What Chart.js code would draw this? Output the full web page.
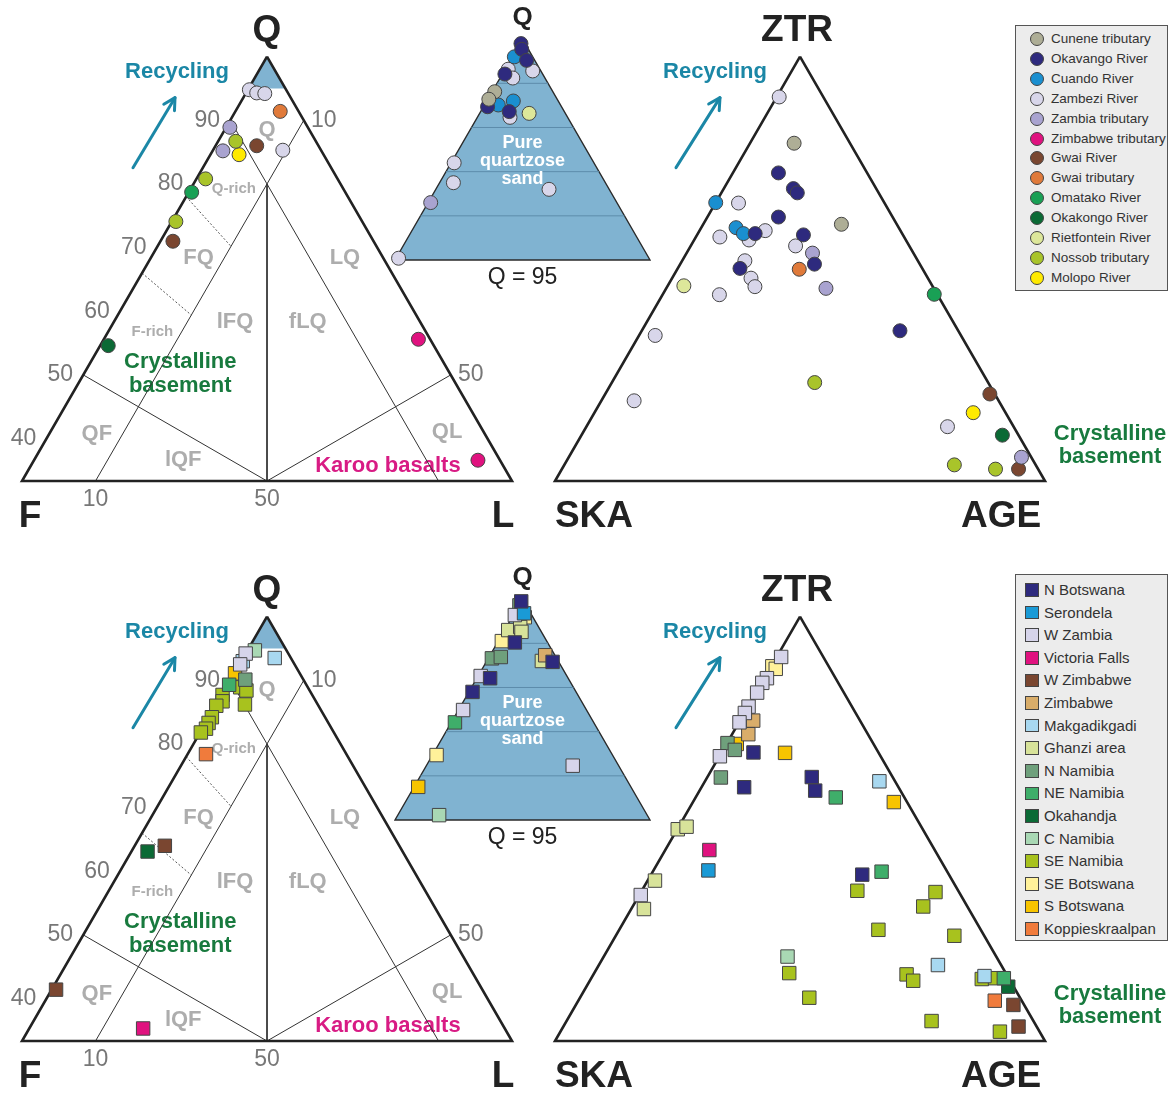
<!DOCTYPE html>
<html>
<head>
<meta charset="utf-8">
<script src="https://cdn.jsdelivr.net/npm/chart.js@4.4.1/dist/chart.umd.min.js"></script>
<style>
  html, body { margin: 0; padding: 0; background: #fff; }
  #wrap { position: relative; width: 1174px; height: 1095px; font-family: "Liberation Sans", Arial, sans-serif; }
  #fig { position: absolute; left: 0; top: 0; }
  .legend { position: absolute; background: #ececec; border: 1px solid #555; box-sizing: border-box; color: #333; }
  .legend .mk { position: absolute; border: 1px solid #444; box-sizing: border-box; }
  .legend .tx { position: absolute; white-space: nowrap; }
</style>
</head>
<body>
<div id="wrap">
  <canvas id="fig" width="1174" height="1095"></canvas>
  <div class="legend" id="legRivers" style="left:1015px;top:25px;width:153px;height:266px;"></div>
  <div class="legend" id="legRegions" style="left:1015px;top:574px;width:153px;height:367px;"></div>
</div>
<script>
// ---- groups ----
const rivers = ['Cunene tributary', 'Okavango River', 'Cuando River', 'Zambezi River', 'Zambia tributary',
  'Zimbabwe tributary', 'Gwai River', 'Gwai tributary', 'Omatako River', 'Okakongo River',
  'Rietfontein River', 'Nossob tributary', 'Molopo River'];
const regions = ['N Botswana', 'Serondela', 'W Zambia', 'Victoria Falls', 'W Zimbabwe', 'Zimbabwe',
  'Makgadikgadi', 'Ghanzi area', 'N Namibia', 'NE Namibia', 'Okahandja', 'C Namibia', 'SE Namibia',
  'SE Botswana', 'S Botswana', 'Koppieskraalpan'];

// ---- tick labels ----
const qTicks = [40, 50, 60, 70, 80, 90];   // Q along the F-Q side
const lTicks = [10, 50];                   // L along the Q-L side
const baseTicks = [10, 50];                // along the F-L base

// ---- river sands: [group, Q, F, L] ----
const riverQFL = [
  ['Zambezi River', 94.8, 5.0, 0.2],
  ['Zambezi River', 94.3, 4.25, 1.45],
  ['Zambezi River', 94.2, 3.2, 2.6],
  ['Gwai tributary', 91.4, 2.5, 6.1],
  ['Zambia tributary', 88.9, 10.6, 0.5],
  ['Nossob tributary', 86.7, 10.9, 2.4],
  ['Gwai River', 86.0, 8.4, 5.6],
  ['Zambia tributary', 85.2, 13.4, 1.4],
  ['Molopo River', 84.6, 11.5, 3.9],
  ['Zambezi River', 85.3, 5.2, 9.5],
  ['Nossob tributary', 80.8, 17.95, 1.25],
  ['Omatako River', 78.7, 20.9, 0.4],
  ['Nossob tributary', 74.1, 25.35, 0.55],
  ['Gwai River', 71.0, 27.3, 1.7],
  ['Okakongo River', 54.6, 44.3, 1.1],
  ['Zimbabwe tributary', 55.6, 1.6, 42.8],
  ['Zimbabwe tributary', 36.6, 3.0, 60.4]
];
const riverQFLzoom = [
  ['Okavango River', 99.9, 0.08, 0.02],
  ['Okavango River', 99.77, 0.13, 0.10],
  ['Cuando River', 99.6, 0.36, 0.04],
  ['Okavango River', 99.52, 0.16, 0.32],
  ['Zambezi River', 99.32, 0.62, 0.06],
  ['Okavango River', 99.21, 0.74, 0.05],
  ['Zambezi River', 99.12, 0.63, 0.25],
  ['Zambezi River', 99.28, 0.16, 0.56],
  ['Cunene tributary', 98.81, 1.14, 0.05],
  ['Cunene tributary', 98.64, 1.34, 0.02],
  ['Okavango River', 98.47, 1.45, 0.08],
  ['Cuando River', 98.51, 1.22, 0.27],
  ['Cuando River', 98.6, 0.88, 0.52],
  ['Okavango River', 98.36, 1.08, 0.56],
  ['Zambezi River', 98.23, 1.13, 0.64],
  ['Rietfontein River', 98.32, 0.71, 0.97],
  ['Zambezi River', 97.2, 2.74, 0.06],
  ['Zambezi River', 96.75, 2.98, 0.27],
  ['Zambia tributary', 96.3, 3.65, 0.05],
  ['Zambezi River', 96.6, 1.18, 2.22],
  ['Zambezi River', 95.04, 4.91, 0.05]
];
// [group, ZTR, SKA, AGE]
const riverZTR = [
  ['Zambezi River', 90.5, 9.0, 0.5],
  ['Cunene tributary', 79.6, 11.4, 9.0],
  ['Okavango River', 72.6, 18.1, 9.3],
  ['Okavango River', 68.9, 16.9, 14.2],
  ['Okavango River', 67.9, 16.6, 15.5],
  ['Cuando River', 65.6, 34.4, 0.0],
  ['Zambezi River', 65.5, 29.8, 4.7],
  ['Okavango River', 62.2, 23.3, 14.5],
  ['Cuando River', 59.7, 33.2, 7.1],
  ['Cuando River', 58.3, 32.4, 9.3],
  ['Zambezi River', 57.5, 37.6, 4.9],
  ['Zambezi River', 56.8, 32.0, 11.2],
  ['Okavango River', 58.3, 30.0, 11.7],
  ['Zambezi River', 59.0, 27.6, 13.4],
  ['Cunene tributary', 60.5, 11.3, 28.2],
  ['Okavango River', 58.0, 20.3, 21.7],
  ['Zambezi River', 55.4, 23.2, 21.4],
  ['Zambia tributary', 53.7, 20.6, 25.7],
  ['Okavango River', 51.1, 21.5, 27.4],
  ['Gwai tributary', 49.9, 25.2, 24.9],
  ['Zambezi River', 51.9, 35.3, 12.8],
  ['Okavango River', 50.1, 37.2, 12.7],
  ['Zambezi River', 47.8, 36.1, 16.1],
  ['Zambezi River', 45.8, 36.3, 17.9],
  ['Rietfontein River', 46.0, 50.7, 3.3],
  ['Zambezi River', 43.9, 44.5, 11.6],
  ['Zambia tributary', 45.4, 22.0, 32.6],
  ['Zambezi River', 34.3, 62.4, 3.3],
  ['Zambezi River', 18.9, 74.4, 6.7],
  ['Omatako River', 44.0, 0.6, 55.4],
  ['Okavango River', 35.4, 11.9, 52.7],
  ['Nossob tributary', 23.2, 35.4, 41.4],
  ['Gwai River', 20.5, 1.0, 78.5],
  ['Molopo River', 16.1, 6.6, 77.3],
  ['Zambezi River', 12.8, 13.5, 73.7],
  ['Okakongo River', 10.8, 3.3, 85.9],
  ['Zambia tributary', 5.6, 2.0, 92.4],
  ['Nossob tributary', 3.8, 16.6, 79.6],
  ['Nossob tributary', 2.8, 8.7, 88.5],
  ['Gwai River', 2.8, 4.0, 93.2]
];

// ---- eolian sands: [group, Q, F, L] ----
const regionQFL = [
  ['C Namibia', 94.7, 4.3, 1.0],
  ['W Zambia', 94.2, 5.8, 0.0],
  ['Makgadikgadi', 93.0, 6.8, 0.2],
  ['Makgadikgadi', 93.5, 2.2, 4.3],
  ['W Zambia', 92.5, 7.4, 0.1],
  ['S Botswana', 91.1, 8.8, 0.1],
  ['N Namibia', 90.1, 7.9, 2.0],
  ['NE Namibia', 89.3, 10.5, 0.2],
  ['SE Namibia', 88.9, 9.2, 1.9],
  ['SE Namibia', 88.4, 8.6, 3.0],
  ['SE Namibia', 87.7, 12.2, 0.1],
  ['SE Namibia', 86.7, 12.7, 0.6],
  ['SE Namibia', 86.0, 13.9, 0.1],
  ['SE Namibia', 86.2, 9.9, 3.9],
  ['SE Namibia', 84.2, 15.4, 0.4],
  ['SE Namibia', 83.3, 16.3, 0.4],
  ['SE Namibia', 82.4, 17.1, 0.5],
  ['SE Namibia', 81.8, 18.1, 0.1],
  ['Koppieskraalpan', 78.4, 19.1, 2.5],
  ['Okahandja', 63.1, 34.7, 2.2],
  ['W Zimbabwe', 64.0, 31.9, 4.1],
  ['W Zimbabwe', 41.4, 58.0, 0.6],
  ['Victoria Falls', 35.3, 49.2, 15.5]
];
const regionQFLzoom = [
  ['N Botswana', 99.95, 0.05, 0.0],
  ['N Namibia', 99.86, 0.13, 0.01],
  ['W Zambia', 99.64, 0.33, 0.03],
  ['SE Botswana', 99.59, 0.16, 0.25],
  ['Serondela', 99.68, 0.13, 0.19],
  ['Ghanzi area', 99.3, 0.63, 0.07],
  ['Ghanzi area', 99.37, 0.36, 0.27],
  ['Ghanzi area', 99.26, 0.39, 0.35],
  ['SE Botswana', 99.05, 0.88, 0.07],
  ['N Botswana', 99.02, 0.64, 0.34],
  ['N Namibia', 98.66, 1.27, 0.07],
  ['N Namibia', 98.69, 1.08, 0.23],
  ['Ghanzi area', 98.6, 0.32, 1.08],
  ['N Botswana', 98.58, 0.12, 1.30],
  ['Zimbabwe', 98.73, 0.19, 1.08],
  ['W Zambia', 98.26, 1.69, 0.05],
  ['N Botswana', 98.21, 1.53, 0.26],
  ['N Botswana', 97.9, 2.03, 0.07],
  ['W Zambia', 97.49, 2.42, 0.09],
  ['NE Namibia', 97.21, 2.72, 0.07],
  ['SE Botswana', 96.47, 3.45, 0.08],
  ['W Zambia', 96.23, 0.9, 2.87],
  ['S Botswana', 95.75, 4.17, 0.08],
  ['C Namibia', 95.11, 4.08, 0.81]
];
const regionZTR = [
  ['W Zambia', 90.5, 8.6, 0.9],
  ['SE Botswana', 88.3, 11.5, 0.2],
  ['SE Botswana', 87.7, 11.1, 1.2],
  ['W Zambia', 85.5, 14.0, 0.5],
  ['W Zambia', 84.4, 15.5, 0.1],
  ['W Zambia', 82.1, 17.7, 0.2],
  ['W Zambia', 78.8, 21.1, 0.1],
  ['W Zambia', 77.3, 22.6, 0.1],
  ['W Zambia', 75.1, 24.8, 0.1],
  ['Zimbabwe', 75.5, 21.8, 2.7],
  ['Zimbabwe', 72.3, 24.4, 3.3],
  ['N Namibia', 70.2, 29.7, 0.1],
  ['N Namibia', 68.6, 29.0, 2.4],
  ['S Botswana', 70.0, 27.9, 2.1],
  ['W Zambia', 67.1, 32.8, 0.1],
  ['N Botswana', 68.0, 25.5, 6.5],
  ['S Botswana', 67.9, 19.1, 13.0],
  ['N Namibia', 62.1, 35.1, 2.8],
  ['N Botswana', 59.8, 31.5, 8.7],
  ['N Botswana', 62.2, 16.5, 21.3],
  ['N Botswana', 59.0, 17.4, 23.6],
  ['NE Namibia', 57.4, 14.0, 28.6],
  ['Ghanzi area', 49.9, 50.0, 0.1],
  ['Ghanzi area', 50.5, 47.9, 1.6],
  ['Victoria Falls', 45.0, 46.0, 9.0],
  ['Serondela', 40.2, 48.6, 11.2],
  ['Ghanzi area', 37.8, 60.7, 1.5],
  ['W Zambia', 34.4, 65.3, 0.3],
  ['Ghanzi area', 31.1, 66.3, 2.6],
  ['Makgadikgadi', 61.2, 3.2, 35.6],
  ['S Botswana', 56.3, 2.7, 41.0],
  ['N Botswana', 39.2, 17.7, 43.1],
  ['NE Namibia', 39.9, 13.4, 46.7],
  ['SE Namibia', 35.4, 20.6, 44.0],
  ['SE Namibia', 35.1, 4.8, 60.1],
  ['SE Namibia', 31.7, 9.0, 59.3],
  ['SE Namibia', 26.2, 20.9, 52.9],
  ['SE Namibia', 24.8, 6.1, 69.1],
  ['C Namibia', 19.9, 42.6, 37.5],
  ['SE Namibia', 16.0, 44.2, 39.8],
  ['SE Namibia', 10.2, 43.0, 46.8],
  ['Makgadikgadi', 17.9, 12.9, 69.2],
  ['SE Namibia', 15.7, 20.4, 63.9],
  ['SE Namibia', 14.2, 19.8, 66.0],
  ['SE Namibia', 4.7, 20.8, 74.5],
  ['SE Namibia', 14.6, 5.6, 79.8],
  ['Makgadikgadi', 15.3, 4.7, 80.0],
  ['SE Namibia', 14.8, 2.8, 82.4],
  ['NE Namibia', 14.8, 1.0, 84.2],
  ['Okahandja', 12.8, 1.1, 86.1],
  ['Koppieskraalpan', 9.5, 5.5, 85.0],
  ['W Zimbabwe', 8.5, 2.2, 89.3],
  ['W Zimbabwe', 3.4, 3.7, 92.9],
  ['SE Namibia', 2.2, 8.1, 89.7]
];

// ---- styles ----
const riverColors = ['#aeae96', '#2e2a7e', '#1a8fd0', '#d8d6ea', '#a9a3d0', '#e0127f', '#7a4630',
  '#e07a3a', '#19a055', '#0b6a35', '#dde79a', '#a9c42a', '#ffea00'];
const regionColors = ['#2e2a7e', '#1a9ad6', '#d6d4ea', '#e0127f', '#7a4630', '#d9ad6a', '#a8d8f0',
  '#d8e39a', '#6fa07c', '#3fae6a', '#0b6a35', '#a9d8b4', '#a8c21e', '#fff19a', '#f7c400', '#f07b3c'];
const BLUE = '#80b3d1';
const FONT = '"Liberation Sans", Arial, sans-serif';

// ---- ternary geometry ----
const S3 = Math.sqrt(3) / 2;
const W = 1174, H = 1095;
function tern(top, left, right) {
  const s = top + left + right;
  return { x: (right + top / 2) / s * 100, y: top * S3 / s * 100 };
}
// axis limits so that ternary point `anchor` lands on pixel (px, py) at k pixels per unit
function frame(anchor, px, py, k) {
  const p = tern(...anchor);
  return { x: [p.x - px / k, p.x + (W - px) / k], y: [p.y - (H - py) / k, p.y + py / k] };
}
const TQ = [100, 0, 0], TF = [100 / 3, 200 / 3, 0], TL = [100 / 3, 0, 200 / 3], CEN = [100 / 3, 100 / 3, 100 / 3];

const frames = [];
[0, 560].forEach(sh => {
  frames.push(frame(TF, 22, 481 + sh, 490 / (200 / 3)));   // QFL (Q > 33 part, stretched)
  frames.push(frame([95, 5, 0], 395, 260 + sh, 255 / 5));  // Q > 95 inset
  frames.push(frame([0, 100, 0], 555, 481 + sh, 4.9));     // ZTR-SKA-AGE
});
const scales = {};
frames.forEach((f, i) => {
  scales['x' + i] = { type: 'linear', axis: 'x', display: false, min: f.x[0], max: f.x[1] };
  scales['y' + i] = { type: 'linear', axis: 'y', display: false, min: f.y[0], max: f.y[1] };
});

const datasets = [];
function line(p, comps, style) {
  datasets.push(Object.assign({
    type: 'line', data: comps.map(c => tern(...c)), xAxisID: 'x' + p, yAxisID: 'y' + p,
    pointRadius: 0, pointHoverRadius: 0, tension: 0, fill: false, borderColor: '#333', borderWidth: 1, order: 2
  }, style));
}
function points(p, rows, names, colors, shape) {
  names.forEach((n, gi) => {
    const d = rows.filter(r => r[0] === n).map(r => tern(r[1], r[2], r[3]));
    if (!d.length) return;
    datasets.push({
      type: 'scatter', label: n, data: d, xAxisID: 'x' + p, yAxisID: 'y' + p,
      pointStyle: shape, pointRadius: shape === 'rect' ? 9.5 : 7, pointHoverRadius: shape === 'rect' ? 9.5 : 7,
      backgroundColor: colors[gi], borderColor: '#454545', borderWidth: 1, order: 0
    });
  });
}

function qflFrame(p) {
  line(p, [TQ, [95, 5, 0], [95, 0, 5], TQ], { fill: 'shape', backgroundColor: BLUE, borderWidth: 0, borderColor: 'rgba(0,0,0,0)', order: 3 });
  line(p, [[100 / 3, 170 / 3, 10], [90, 0, 10]]);
  line(p, [[90, 10, 0], [100 / 3, 10, 170 / 3]]);
  line(p, [[80, 10, 10], CEN]);
  line(p, [[50, 50, 0], CEN]);
  line(p, [[50, 0, 50], CEN]);
  line(p, [[78, 22, 0], [70.2, 19.8, 10]], { borderDash: [2, 2], borderColor: '#555' });
  line(p, [[66, 34, 0], [59.4, 30.6, 10]], { borderDash: [2, 2], borderColor: '#555' });
  line(p, [TQ, TF, TL, TQ], { borderColor: '#222', borderWidth: 2.6, order: 1 });
}
function zoomFrame(p) {
  line(p, [TQ, [95, 5, 0], [95, 0, 5], TQ], { fill: 'shape', backgroundColor: BLUE, borderColor: '#2a2a2a', borderWidth: 1.4, order: 3 });
  [96, 97, 98, 99].forEach(q => line(p, [[q, 100 - q, 0], [q, 0, 100 - q]], { borderColor: '#5d8cab' }));
}
function ztrFrame(p) {
  line(p, [[100, 0, 0], [0, 100, 0], [0, 0, 100], [100, 0, 0]], { borderColor: '#222', borderWidth: 2.6, order: 1 });
}

qflFrame(0); zoomFrame(1); ztrFrame(2);
qflFrame(3); zoomFrame(4); ztrFrame(5);
points(0, riverQFL, rivers, riverColors, 'circle');
points(1, riverQFLzoom, rivers, riverColors, 'circle');
points(2, riverZTR, rivers, riverColors, 'circle');
points(3, regionQFL, regions, regionColors, 'rect');
points(4, regionQFLzoom, regions, regionColors, 'rect');
points(5, regionZTR, regions, regionColors, 'rect');

// ---- text ----
const labels = [];
const arrows = [];
const GRAY = '#adadad', TEAL = '#1b87a6', GREEN = '#187a3e', PINK = '#d81b84';
[0, 3].forEach(a => {
  const z = a + 1, t = a + 2;
  const L = (p, at, dx, dy, text, font, color, layer) => labels.push({ p, at, dx, dy, text, font, color, layer: layer || 'under' });
  L(a, TQ, 0, -26, 'Q', 'bold 37px', '#222');
  L(a, TF, 8, 36, 'F', 'bold 37px', '#222');
  L(a, TL, -9, 36, 'L', 'bold 37px', '#222');
  qTicks.forEach(v => L(a, [v, 100 - v, 0], -23, 0, String(v), '23px', '#777'));
  lTicks.forEach(v => L(a, [100 - v, 0, v], 20, 0, String(v), '23px', '#777'));
  baseTicks.forEach(v => L(a, v === 50 ? CEN : [100 / 3, 200 / 3 - v, v], 0, 19, String(v), '23px', '#777'));
  L(a, [88.5, 5.75, 5.75], 0, 0, 'Q', 'bold 22px', GRAY);
  L(a, [79.2, 14.9, 5.9], 0, 0, 'Q-rich', 'bold 15px', GRAY);
  L(a, [68.4, 25.1, 6.5], 0, 0, 'FQ', 'bold 22px', GRAY);
  L(a, [68.4, 5.2, 26.4], 0, 0, 'LQ', 'bold 22px', GRAY);
  L(a, [58.3, 25.2, 16.5], 0, 0, 'lFQ', 'bold 22px', GRAY);
  L(a, [58.3, 15.3, 26.4], 0, 0, 'fLQ', 'bold 22px', GRAY);
  L(a, [56.8, 37.2, 6.0], 0, 0, 'F-rich', 'bold 15px', GRAY);
  L(a, [40.7, 52.8, 6.5], 0, 0, 'QF', 'bold 22px', GRAY);
  L(a, [36.6, 43.1, 20.3], 0, 0, 'lQF', 'bold 22px', GRAY);
  L(a, [41.0, 5.0, 54.0], 0, 0, 'QL', 'bold 22px', GRAY);
  L(a, [50.2, 36.7, 13.1], 0, -12, 'Crystalline', 'bold 22px', GREEN);
  L(a, [50.2, 36.7, 13.1], 0, 12, 'basement', 'bold 22px', GREEN);
  L(a, [35.7, 15.7, 48.6], 0, 0, 'Karoo basalts', 'bold 22px', PINK);
  L(a, TQ, -90, 15, 'Recycling', 'bold 22px', TEAL);
  arrows.push({ p: a, at: TQ, from: [-134, 111], to: [-92, 41] });

  L(z, TQ, 0, -21, 'Q', 'bold 26px', '#222');
  L(z, [95, 2.5, 2.5], 0, 18, 'Q = 95', '23px', '#222');
  L(z, TQ, 0, 104, 'Pure', 'bold 18px', '#fff', 'over');
  L(z, TQ, 0, 122, 'quartzose', 'bold 18px', '#fff', 'over');
  L(z, TQ, 0, 140, 'sand', 'bold 18px', '#fff', 'over');

  L(t, [100, 0, 0], -3, -26, 'ZTR', 'bold 37px', '#222');
  L(t, [0, 100, 0], 39, 36, 'SKA', 'bold 37px', '#222');
  L(t, [0, 0, 100], -44, 36, 'AGE', 'bold 37px', '#222');
  L(t, [100, 0, 0], -85, 15, 'Recycling', 'bold 22px', TEAL);
  L(t, [0, 0, 100], 65, -47, 'Crystalline', 'bold 22px', GREEN);
  L(t, [0, 0, 100], 65, -24, 'basement', 'bold 22px', GREEN);
  arrows.push({ p: t, at: [100, 0, 0], from: [-124, 111], to: [-80, 41] });
});

function pix(chart, p, comp) {
  const q = tern(...comp);
  return { x: chart.scales['x' + p].getPixelForValue(q.x), y: chart.scales['y' + p].getPixelForValue(q.y) };
}
function drawText(chart, layer) {
  const ctx = chart.ctx;
  ctx.save();
  ctx.textAlign = 'center';
  ctx.textBaseline = 'middle';
  labels.filter(l => l.layer === layer).forEach(l => {
    const o = pix(chart, l.p, l.at);
    ctx.font = l.font + ' ' + FONT;
    ctx.fillStyle = l.color;
    ctx.fillText(l.text, o.x + l.dx, o.y + l.dy);
  });
  if (layer === 'under') {
    ctx.strokeStyle = TEAL; ctx.lineWidth = 3; ctx.lineCap = 'round'; ctx.lineJoin = 'round';
    arrows.forEach(a => {
      const o = pix(chart, a.p, a.at);
      const x0 = o.x + a.from[0], y0 = o.y + a.from[1], x1 = o.x + a.to[0], y1 = o.y + a.to[1];
      const ang = Math.atan2(y1 - y0, x1 - x0), hl = 13;
      ctx.beginPath(); ctx.moveTo(x0, y0); ctx.lineTo(x1, y1); ctx.stroke();
      ctx.beginPath();
      ctx.moveTo(x1 - hl * Math.cos(ang - 0.5), y1 - hl * Math.sin(ang - 0.5));
      ctx.lineTo(x1, y1);
      ctx.lineTo(x1 - hl * Math.cos(ang + 0.5), y1 - hl * Math.sin(ang + 0.5));
      ctx.stroke();
    });
  }
  ctx.restore();
}
const textPlugin = {
  id: 'ternaryText',
  beforeDatasetsDraw(chart) { drawText(chart, 'under'); },
  afterDatasetsDraw(chart) { drawText(chart, 'over'); }
};

new Chart(document.getElementById('fig'), {
  type: 'scatter',
  data: { datasets },
  options: {
    responsive: false, animation: false, events: [], devicePixelRatio: 1,
    layout: { padding: 0, autoPadding: false },
    scales,
    plugins: { legend: { display: false }, tooltip: { enabled: false } }
  },
  plugins: [textPlugin]
});

// ---- legends ----
function legend(id, names, colors, round, top, step, mkX, mkSize, txX, fontPx) {
  const box = document.getElementById(id);
  box.innerHTML = names.map((n, i) => {
    const cy = top + step * i;
    return `<div class="mk" style="left:${mkX}px;top:${cy - mkSize / 2}px;width:${mkSize}px;height:${mkSize}px;background:${colors[i]};border-radius:${round ? '50%' : '0'}"></div>` +
      `<div class="tx" style="left:${txX}px;top:${cy - 10}px;line-height:20px;font-size:${fontPx}px">${n}</div>`;
  }).join('');
}
legend('legRivers', rivers, riverColors, true, 13, 19.9, 14, 14, 35, 13.5);
legend('legRegions', regions, regionColors, false, 15, 22.6, 9, 13.5, 28, 15);
</script>
</body>
</html>
